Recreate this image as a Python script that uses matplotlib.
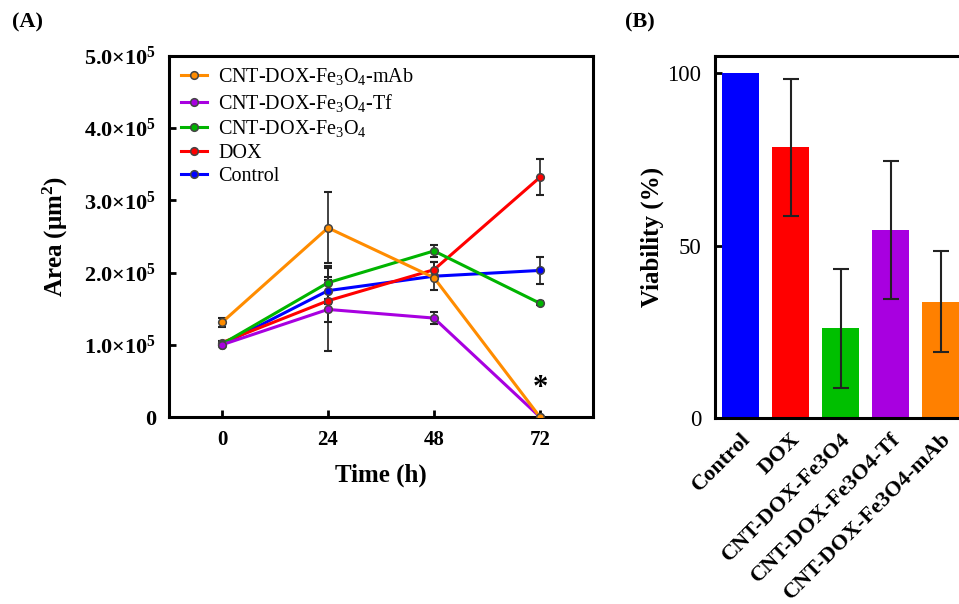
import numpy as np
import matplotlib
matplotlib.use("Agg")
import matplotlib.pyplot as plt

plt.rcParams['font.family'] = ['Liberation Serif', 'DejaVu Serif']
plt.rcParams['mathtext.default'] = 'regular'

# panel A: tumour area over time
time_h = [0, 24, 48, 72]
area_control = [1.00e5, 1.75e5, 1.95e5, 2.03e5]
area_control_err = [0.02e5, 0.19e5, 0.19e5, 0.19e5]
area_dox = [1.03e5, 1.61e5, 2.04e5, 3.32e5]
area_dox_err = [0.02e5, 0.29e5, 0.10e5, 0.25e5]
area_fe3o4 = [1.01e5, 1.86e5, 2.30e5, 1.575e5]
area_fe3o4_err = [0.02e5, 0.23e5, 0.08e5, 0.03e5]
area_tf = [1.00e5, 1.49e5, 1.37e5, 0.0]
area_tf_err = [0.02e5, 0.58e5, 0.08e5, 0.0]
area_mab = [1.31e5, 2.62e5, 1.93e5, 0.0]
area_mab_err = [0.06e5, 0.49e5, 0.0, 0.0]
area_yticks = [0, 1e5, 2e5, 3e5, 4e5, 5e5]
area_yticklabels = ["0", "1.0×10$^5$", "2.0×10$^5$", "3.0×10$^5$", "4.0×10$^5$", "5.0×10$^5$"]

# panel B: viability
groups = ["Control", "DOX", "CNT-DOX-Fe3O4", "CNT-DOX-Fe3O4-Tf", "CNT-DOX-Fe3O4-mAb"]
viability = [100, 78.5, 26, 54.6, 33.8]
viability_err = [0, 19.8, 17.2, 20.1, 14.7]
bar_colors = ["#0000ff", "#ff0000", "#00bf00", "#a800e0", "#ff8000"]

series = [
    ("Control", area_control, area_control_err, "#0000ff"),
    ("DOX", area_dox, area_dox_err, "#ff0000"),
    ("CNT-DOX-Fe$_3$O$_4$", area_fe3o4, area_fe3o4_err, "#00b400"),
    ("CNT-DOX-Fe$_3$O$_4$-Tf", area_tf, area_tf_err, "#a800e0"),
    ("CNT-DOX-Fe$_3$O$_4$-mAb", area_mab, area_mab_err, "#ff8c00"),
]

fig = plt.figure(figsize=(9.59, 6.04), dpi=100)
axA = fig.add_axes([0.1762, 0.3096, 0.4421, 0.5977])
axB = fig.add_axes([0.7456, 0.3079, 0.2769, 0.5993])

handles = []
for name, vals, errs, col in series:
    axA.errorbar(time_h, vals, yerr=errs, fmt='none', ecolor='#222222',
                 elinewidth=1.2, capsize=3, capthick=1.5, zorder=3)
    h, = axA.plot(time_h, vals, '-o', color=col, lw=2.2, ms=5.5,
                  mfc=col, mec='#444444', mew=1.1, label=name, zorder=4)
    handles.append(h)

axA.text(time_h[-1], 0.40e5, "*", ha='center', va='center', fontsize=22, fontweight='bold')

axA.set_xlim(-12, 84)
axA.set_ylim(0, 5e5)
axA.set_xticks(time_h)
axA.set_xticklabels([str(t) for t in time_h], fontsize=15, fontweight='bold')
axA.set_yticks(area_yticks)
axA.set_yticklabels(area_yticklabels, fontsize=16, fontweight='bold')
axA.tick_params(direction='in', length=5, width=2, pad=9)
axA.set_xlabel("Time (h)", fontsize=18, fontweight='bold', labelpad=10)
axA.set_ylabel("Area (μm$^2$)", fontsize=18, fontweight='bold', labelpad=10)
for sp in axA.spines.values():
    sp.set_linewidth(2.2)

leg = axA.legend(handles[::-1], [h.get_label() for h in handles[::-1]],
                 loc='upper left', bbox_to_anchor=(-0.005, 1.01), frameon=False,
                 fontsize=14.5, handlelength=1.3, handletextpad=0.55,
                 labelspacing=0.22, borderaxespad=0.3)

# panel B
xpos = np.arange(len(groups))
axB.bar(xpos, viability, width=0.74, color=bar_colors, zorder=2)
idx = [i for i in xpos if viability_err[i] > 0]
axB.errorbar([xpos[i] for i in idx], [viability[i] for i in idx],
             yerr=[viability_err[i] for i in idx], fmt='none', ecolor='#222222',
             elinewidth=1.5, capsize=6, capthick=1.5, zorder=3)
axB.set_xlim(-0.51, 4.8)
axB.set_ylim(0, 105)
axB.set_yticks([0, 50, 100])
axB.set_yticklabels(["0", "50", "100"], fontsize=16.5)
axB.set_xticks(xpos)
axB.set_xticklabels(groups, rotation=45, ha='right', rotation_mode='anchor',
                    fontsize=16, fontweight='bold')
axB.tick_params(axis='y', direction='in', length=5, width=2, pad=10)
axB.tick_params(axis='x', length=0, pad=8)
axB.set_ylabel("Viability (%)", fontsize=18, fontweight='bold', labelpad=2)
for sp in axB.spines.values():
    sp.set_linewidth(2.2)

fig.text(0.013, 0.962, "(A)", fontsize=16, fontweight='bold', va='center')
fig.text(0.652, 0.962, "(B)", fontsize=16, fontweight='bold', va='center')

fig.savefig("out.png", dpi=100)
